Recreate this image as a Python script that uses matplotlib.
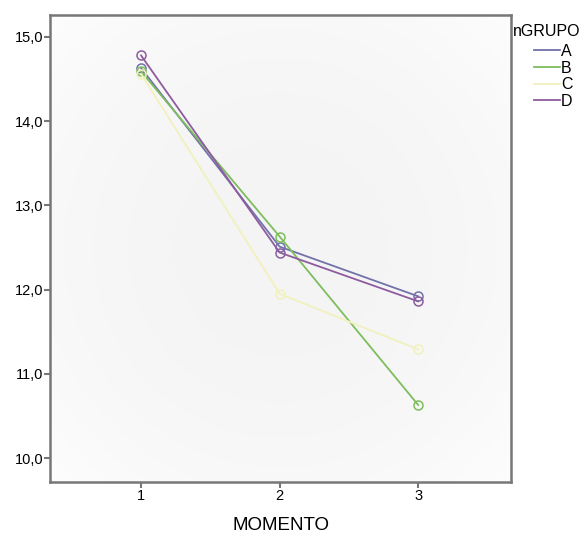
import matplotlib.pyplot as plt
import numpy as np
from matplotlib.ticker import FuncFormatter

plt.rcParams['font.family'] = ['Liberation Sans', 'DejaVu Sans']

# data
momento = [1, 2, 3]
grupos = ['A', 'B', 'C', 'D']
medias = {
    'A': [14.63, 12.51, 11.92],
    'B': [14.59, 12.63, 10.63],
    'C': [14.56, 11.95, 11.29],
    'D': [14.78, 12.44, 11.86],
}
colores = {'A': '#7272AA', 'B': '#7DBE5C', 'C': '#F1F1BE', 'D': '#8E5C9E'}

fig = plt.figure(figsize=(5.85, 5.36), dpi=100)
ax = fig.add_axes([0.0855, 0.1007, 0.788, 0.8713])

# soft background: grey in the middle, lighter towards the edges
yy, xx = np.mgrid[-1:1:300j, -1:1:300j]
r = np.clip(np.sqrt(xx ** 2 + yy ** 2) / np.sqrt(2), 0, 1)
bg = np.dstack([0.957 + 0.035 * r ** 2] * 3)
ax.imshow(bg, extent=[0, 1, 0, 1], transform=ax.transAxes, aspect='auto',
          zorder=0, interpolation='bilinear')

for g in grupos:
    ax.plot(momento, medias[g], color=colores[g], lw=1.3, marker='o',
            markersize=6.5, markerfacecolor='none', markeredgewidth=1.1, label=g,
            zorder=2)

ax.set_xlim(0.343, 3.67)
ax.set_ylim(9.715, 15.26)
ax.set_xticks(momento)
ax.set_yticks([10, 11, 12, 13, 14, 15])
ax.yaxis.set_major_formatter(FuncFormatter(lambda v, p: f"{v:.1f}".replace('.', ',')))
ax.tick_params(labelsize=10.5, length=4, width=1.5, color='#777777', pad=1)
for s in ax.spines.values():
    s.set_color('#777777')
    s.set_linewidth(1.8)
ax.set_xlabel('MOMENTO', fontsize=13.5, labelpad=10)

# legend: title on its own, entries indented below it
fig.text(513 / 585, 1 - 32 / 536, 'nGRUPO', fontsize=11.5, ha='left', va='center')
leg = fig.legend(loc='upper left', bbox_to_anchor=(534 / 585, 1 - 44 / 536),
                 frameon=False, fontsize=11.5, handlelength=1.6, handletextpad=0.1,
                 labelspacing=0.1, borderaxespad=0, borderpad=0)
for h in leg.legend_handles:
    h.set_marker('')

fig.savefig('out.png', dpi=100)
